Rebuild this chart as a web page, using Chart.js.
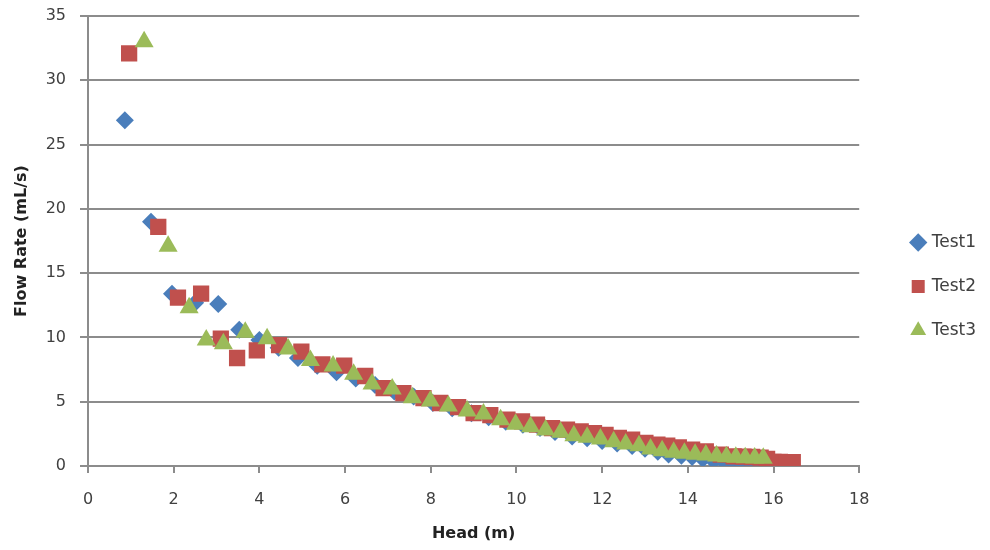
<!DOCTYPE html>
<html>
<head>
<meta charset="utf-8">
<title>Flow Rate vs Head</title>
<script src="https://cdn.jsdelivr.net/npm/chart.js@4.4.1/dist/chart.umd.min.js"></script>
<style>
  html, body { margin: 0; padding: 0; background: #fff; }
  #wrap { position: relative; width: 990px; height: 550px; }
</style>
</head>
<body>
<div id="wrap"><canvas id="chart"></canvas></div>
<script>
// Test 1 (blue diamonds)
const test1Head = [0.86, 1.47, 1.96, 2.5, 3.04, 3.53, 4.0, 4.45, 4.9, 5.35, 5.8, 6.25, 6.7, 7.15, 7.6, 8.05, 8.5, 8.95, 9.35, 9.75,
  10.15, 10.55, 10.9, 11.3, 11.65, 12.0, 12.35, 12.7, 13.0, 13.3, 13.55, 13.85, 14.1, 14.35, 14.6, 14.85, 15.1, 15.3, 15.5, 15.7];
const test1Flow = [26.9, 19.0, 13.4, 12.7, 12.6, 10.6, 9.8, 9.2, 8.4, 7.8, 7.3, 6.8, 6.3, 5.8, 5.4, 4.9, 4.5, 4.1, 3.8, 3.45,
  3.2, 2.95, 2.65, 2.3, 2.15, 1.95, 1.75, 1.55, 1.35, 1.1, 0.9, 0.8, 0.7, 0.55, 0.4, 0.3, 0.2, 0.1, 0.05, 0.0];

// Test 2 (red squares)
const test2Head = [0.96, 1.64, 2.1, 2.64, 3.1, 3.48, 3.94, 4.46, 4.98, 5.47, 5.98, 6.47, 6.9, 7.36, 7.83, 8.22, 8.64, 9.0, 9.39, 9.79,
  10.13, 10.48, 10.83, 11.18, 11.5, 11.81, 12.08, 12.39, 12.7, 13.01, 13.29, 13.52, 13.79, 14.1, 14.42, 14.77, 15.07, 15.3, 15.5, 15.7,
  15.85, 16.0, 16.15, 16.3, 16.45];
const test2Flow = [32.1, 18.6, 13.1, 13.4, 9.9, 8.4, 9.0, 9.4, 8.9, 7.9, 7.8, 7.0, 6.06, 5.67, 5.28, 4.9, 4.58, 4.12, 3.96, 3.6,
  3.47, 3.21, 2.95, 2.82, 2.69, 2.56, 2.43, 2.18, 2.05, 1.79, 1.66, 1.58, 1.45, 1.27, 1.14, 0.88, 0.75, 0.72, 0.7, 0.65,
  0.55, 0.33, 0.33, 0.3, 0.3];

// Test 3 (green triangles)
const test3Head = [1.31, 1.87, 2.36, 2.76, 3.16, 3.67, 4.18, 4.67, 5.19, 5.72, 6.2, 6.63, 7.1, 7.57, 7.99, 8.41, 8.85, 9.23, 9.63, 9.98,
  10.33, 10.68, 11.03, 11.34, 11.65, 11.96, 12.27, 12.55, 12.86, 13.13, 13.4, 13.67, 13.92, 14.17, 14.42, 14.67, 14.9, 15.12, 15.34, 15.56, 15.76];
const test3Flow = [33.0, 17.1, 12.3, 9.8, 9.5, 10.4, 9.9, 9.1, 8.2, 7.77, 7.13, 6.37, 5.98, 5.3, 5.05, 4.66, 4.27, 4.04, 3.6, 3.25,
  3.05, 2.8, 2.62, 2.35, 2.23, 2.1, 1.89, 1.71, 1.58, 1.32, 1.19, 1.06, 1.0, 0.92, 0.85, 0.78, 0.72, 0.68, 0.65, 0.62, 0.6];

const seriesNames = ["Test1", "Test2", "Test3"];
const xTicks = { min: 0, max: 18, step: 2 };
const yTicks = { min: 0, max: 35, step: 5 };

const pts = (xs, ys) => xs.map((x, i) => ({ x: x, y: ys[i] }));

const FONT = "'DejaVu Sans', sans-serif";
const gridCol = "#8c8c8c";

new Chart(document.getElementById("chart"), {
  type: "scatter",
  data: {
    datasets: [
      { label: seriesNames[0], data: pts(test1Head, test1Flow), pointStyle: "rectRot", pointRadius: 9,
        backgroundColor: "#4a7ebb", borderColor: "#4a7ebb", borderWidth: 0, order: 2 },
      { label: seriesNames[1], data: pts(test2Head, test2Flow), pointStyle: "rect", pointRadius: 11.5,
        backgroundColor: "#c0504d", borderColor: "#c0504d", borderWidth: 0, order: 1 },
      { label: seriesNames[2], data: pts(test3Head, test3Flow), pointStyle: "triangle", pointRadius: 11,
        backgroundColor: "#9bbb59", borderColor: "#9bbb59", borderWidth: 0, order: 0 }
    ]
  },
  options: {
    responsive: true,
    maintainAspectRatio: false,
    animation: false,
    // negative bottom padding only to nudge the legend down a little
    layout: { padding: { top: 16, right: 4, bottom: -7, left: 0 } },
    plugins: {
      tooltip: { enabled: false },
      legend: {
        position: "right",
        labels: {
          usePointStyle: true,
          boxWidth: 10,
          boxHeight: 13,
          padding: 27,
          color: "#404040",
          font: { family: FONT, size: 17 },
          sort: (a, b) => a.datasetIndex - b.datasetIndex
        }
      }
    },
    scales: {
      x: {
        type: "linear",
        min: xTicks.min, max: xTicks.max,
        ticks: { stepSize: xTicks.step, color: "#404040", padding: 17, font: { family: FONT, size: 16 } },
        grid: { drawOnChartArea: false, drawTicks: true, tickLength: 7, color: gridCol, lineWidth: 2 },
        border: { color: gridCol, width: 2 },
        title: { display: true, text: "Head (m)", color: "#222", padding: { top: 4, bottom: 14 },
          font: { family: FONT, size: 16, weight: "bold" } },
        afterFit: (s) => { s.height = 91; }
      },
      y: {
        type: "linear",
        min: yTicks.min, max: yTicks.max,
        ticks: { stepSize: yTicks.step, color: "#404040", padding: 14, font: { family: FONT, size: 16 } },
        grid: { drawTicks: true, tickLength: 8, color: gridCol, lineWidth: 2 },
        border: { color: gridCol, width: 2 },
        title: { display: true, text: "Flow Rate (mL/s)", color: "#222", padding: { top: 12, bottom: 4 },
          font: { family: FONT, size: 16, weight: "bold" } },
        afterFit: (s) => { s.width = 88; s.paddingTop = 0; s.paddingBottom = 0; }
      },
      // empty spacer between plot area and legend
      gap: {
        type: "linear",
        position: "right",
        display: true,
        grid: { display: false },
        ticks: { display: false },
        border: { display: false },
        afterFit: (s) => { s.width = 27; }
      }
    }
  }
});
</script>
</body>
</html>
